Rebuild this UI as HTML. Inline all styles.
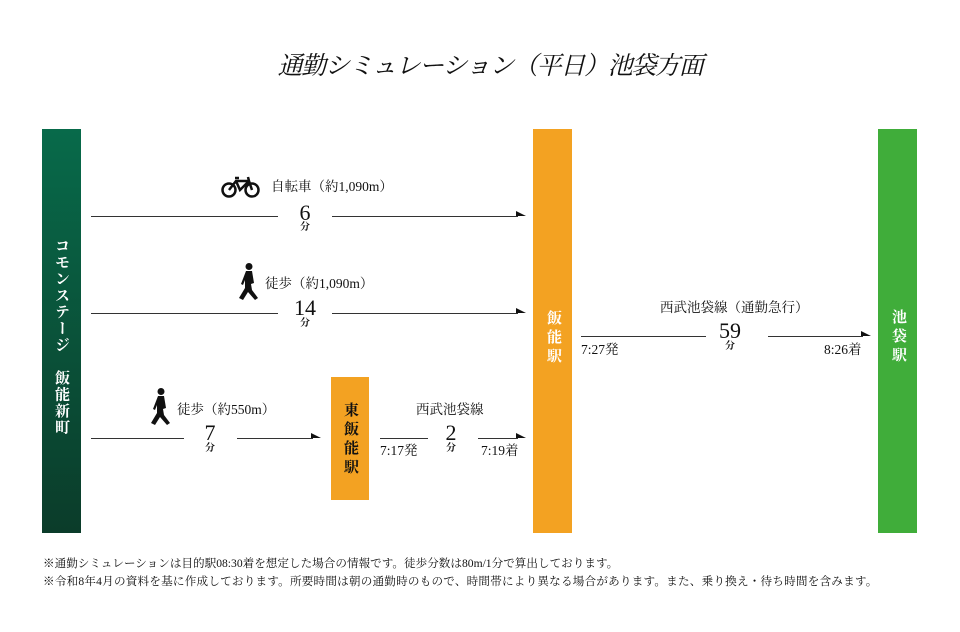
<!DOCTYPE html><html><head><meta charset="utf-8"><style>
body{margin:0;width:960px;height:632px;background:#fff;position:relative;overflow:hidden;font-family:"Liberation Serif","Noto Serif CJK JP",serif;color:#111}
.a{position:absolute}
.c{position:absolute;transform:translateX(-50%);white-space:nowrap}
.ln{position:absolute;height:1px;background:#333}
.ar{position:absolute;width:0;height:0;border-top:5px solid transparent;border-left:10px solid #111}
.v{position:absolute;writing-mode:vertical-rl;font-weight:bold;color:#fff;font-size:15px;line-height:1}
.num{position:absolute;transform:translateX(-50%);font-size:22px;line-height:1}
.fun{position:absolute;transform:translateX(-50%);font-size:10px;font-weight:bold;line-height:1}
.lb{position:absolute;font-size:13.5px;white-space:nowrap;line-height:1}
</style></head><body>
<div class="c" style="left:490px;top:46px;font-size:25px;font-style:italic;letter-spacing:-1.3px;font-family:'Noto Serif CJK JP',serif">通勤シミュレーション（平日）池袋方面</div>

<div class="a" style="left:42px;top:129px;width:39px;height:404px;background:linear-gradient(#086a4a,#0b3c2a)"></div>
<div class="v" style="left:53px;top:238px;letter-spacing:1.5px">コモンステージ　飯能新町</div>
<div class="a" style="left:533px;top:129px;width:39px;height:404px;background:#f3a222"></div>
<div class="v" style="left:545px;top:310px;letter-spacing:4px">飯能駅</div>
<div class="a" style="left:878px;top:129px;width:39px;height:404px;background:#40ad3a"></div>
<div class="v" style="left:890px;top:309px;letter-spacing:4px">池袋駅</div>
<div class="a" style="left:331px;top:377px;width:38px;height:123px;background:#f3a222"></div>
<div class="v" style="left:342px;top:402px;color:#111;letter-spacing:4px">東飯能駅</div>

<svg class="a" style="left:221px;top:175px" width="40" height="24" viewBox="0 0 40 24"><g fill="none" stroke="#111" stroke-width="2.5"><circle cx="8" cy="15" r="6.5"/><circle cx="31" cy="15" r="6.5"/><path d="M8 15 L15 6 L28 6 L31 15 M15 6 L19 15 L28 6 M14 3 L18 3 M27 2 L28 6"/></g></svg>
<div class="lb" style="left:271px;top:180px">自転車（約1,090m）</div>
<div class="ln" style="left:91px;top:216px;width:187px"></div>
<div class="ln" style="left:332px;top:216px;width:186px"></div>
<div class="ar" style="left:516px;top:211px"></div>
<div class="num" style="left:305px;top:202px">6</div>
<div class="fun" style="left:305px;top:223px">分</div>

<svg class="a" style="left:238px;top:263px" width="22" height="38" viewBox="0 0 22 38"><circle cx="11" cy="3.5" r="3.5" fill="#111"/><path d="M8 8 L14 8 L16 20 L13 21 L14 27 L20 35 L17 37 L10 29 L5 37 L1 35 L7 25 L7 17 L5 22 L3 21 Z" fill="#111"/></svg>
<div class="lb" style="left:265px;top:277px">徒歩（約1,090m）</div>
<div class="ln" style="left:91px;top:313px;width:187px"></div>
<div class="ln" style="left:332px;top:313px;width:186px"></div>
<div class="ar" style="left:516px;top:308px"></div>
<div class="num" style="left:305px;top:297px">14</div>
<div class="fun" style="left:305px;top:319px">分</div>

<svg class="a" style="left:150px;top:388px" width="22" height="38" viewBox="0 0 22 38"><circle cx="11" cy="3.5" r="3.5" fill="#111"/><path d="M8 8 L14 8 L16 20 L13 21 L14 27 L20 35 L17 37 L10 29 L5 37 L1 35 L7 25 L7 17 L5 22 L3 21 Z" fill="#111"/></svg>
<div class="lb" style="left:177px;top:403px">徒歩（約550m）</div>
<div class="ln" style="left:91px;top:438px;width:93px"></div>
<div class="ln" style="left:237px;top:438px;width:76px"></div>
<div class="ar" style="left:311px;top:433px"></div>
<div class="num" style="left:210px;top:422px">7</div>
<div class="fun" style="left:210px;top:444px">分</div>

<div class="lb" style="left:416px;top:403px">西武池袋線</div>
<div class="ln" style="left:380px;top:438px;width:48px"></div>
<div class="ln" style="left:478px;top:438px;width:40px"></div>
<div class="ar" style="left:516px;top:433px"></div>
<div class="num" style="left:451px;top:422px">2</div>
<div class="fun" style="left:451px;top:444px">分</div>
<div class="lb" style="left:380px;top:444px">7:17発</div>
<div class="lb" style="left:481px;top:444px">7:19着</div>

<div class="lb" style="left:660px;top:301px">西武池袋線（通勤急行）</div>
<div class="ln" style="left:581px;top:336px;width:125px"></div>
<div class="ln" style="left:768px;top:336px;width:95px"></div>
<div class="ar" style="left:861px;top:331px"></div>
<div class="num" style="left:730px;top:320px">59</div>
<div class="fun" style="left:730px;top:342px">分</div>
<div class="lb" style="left:581px;top:343px">7:27発</div>
<div class="lb" style="left:824px;top:343px">8:26着</div>

<div class="lb" style="left:43px;top:558px;font-size:11.6px">※通勤シミュレーションは目的駅08:30着を想定した場合の情報です。徒歩分数は80m/1分で算出しております。</div>
<div class="lb" style="left:43px;top:576px;font-size:11.6px;letter-spacing:0.2px">※令和8年4月の資料を基に作成しております。所要時間は朝の通勤時のもので、時間帯により異なる場合があります。また、乗り換え・待ち時間を含みます。</div>
</body></html>
